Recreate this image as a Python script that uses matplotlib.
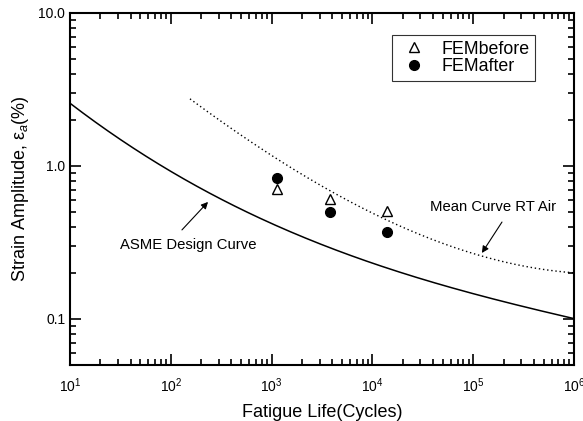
import numpy as np
import matplotlib
matplotlib.use('Agg')
import matplotlib.pyplot as plt
from matplotlib.ticker import FixedLocator, FixedFormatter, LogLocator, NullFormatter

plt.rcParams['font.family'] = ['Liberation Sans', 'DejaVu Sans']
plt.rcParams['mathtext.fontset'] = 'custom'
plt.rcParams['mathtext.rm'] = 'Liberation Sans'
plt.rcParams['mathtext.it'] = 'Liberation Sans:italic'

# ASME design curve
asme_cycles = [10, 36.7, 98, 245, 1210, 14000, 100000, 1000000]
asme_strain = [2.50, 1.48, 0.94, 0.627, 0.40, 0.215, 0.148, 0.10]

# mean curve RT air
mean_cycles = [155, 1210, 8070, 11900, 117000, 980000]
mean_strain = [2.74, 1.09, 0.531, 0.457, 0.262, 0.20]

# FEM points
fem_cycles = [1120, 3800, 14000]
fem_before = [0.71, 0.61, 0.51]
fem_after = [0.835, 0.50, 0.37]


def smooth(xs, ys, n=200):
    lx = np.log10(xs)
    ly = np.log10(ys)
    coef = np.polyfit(lx, ly, 3)
    gx = np.linspace(lx[0], lx[-1], n)
    return 10 ** gx, 10 ** np.polyval(coef, gx)


fig = plt.figure(figsize=(5.83, 4.21), dpi=100)
ax = fig.add_axes([70 / 583, 1 - 365 / 421, 504 / 583, 352 / 421])

sx, sy = smooth(asme_cycles, asme_strain)
ax.plot(sx, sy, color='black', lw=1.1)
mx, my = smooth(mean_cycles, mean_strain)
ax.plot(mx, my, color='black', lw=1.0, ls=(0, (1, 2)))

ax.plot(fem_cycles, fem_before, ls='none', marker='^', mfc='white', mec='black',
        ms=7, mew=1.0, label='FEMbefore')
ax.plot(fem_cycles, fem_after, ls='none', marker='o', mfc='black', mec='black',
        ms=7, label='FEMafter')

ax.set_xscale('log')
ax.set_yscale('log')
ax.set_xlim(10, 1e6)
ax.set_ylim(0.05, 10)

ax.yaxis.set_major_locator(FixedLocator([0.1, 1.0, 10.0]))
ax.yaxis.set_major_formatter(FixedFormatter(['0.1', '1.0', '10.0']))
ax.yaxis.set_minor_locator(LogLocator(base=10, subs=np.arange(2, 10)))
ax.yaxis.set_minor_formatter(NullFormatter())
ax.xaxis.set_minor_locator(LogLocator(base=10, subs=np.arange(2, 10)))
ax.xaxis.set_minor_formatter(NullFormatter())

ax.tick_params(which='both', direction='in', top=True, right=True, width=1.2, labelsize=10)
ax.tick_params(which='major', length=8)
ax.tick_params(which='minor', length=4)
ax.tick_params(axis='x', pad=8)
for s in ax.spines.values():
    s.set_linewidth(1.5)

ax.set_xlabel('Fatigue Life(Cycles)', fontsize=13, labelpad=7)
ax.set_ylabel('Strain Amplitude, ε$_a$(%)', fontsize=13, labelpad=5)

arrow = dict(arrowstyle='-|>', color='black', lw=0.8, mutation_scale=10,
             shrinkA=0, shrinkB=0)
ax.text(31, 0.305, 'ASME Design Curve', fontsize=10.7, ha='left', va='center')
ax.annotate('', xy=(234, 0.582), xytext=(129, 0.382), arrowprops=arrow)
ax.text(3.7e4, 0.54, 'Mean Curve RT Air', fontsize=10.7, ha='left', va='center')
ax.annotate('', xy=(1.22e5, 0.27), xytext=(1.93e5, 0.43), arrowprops=arrow)

leg = ax.legend(loc='upper right', bbox_to_anchor=(0.923, 0.937), fontsize=12.8,
                frameon=True, fancybox=False, edgecolor='black', handlelength=1.9,
                borderpad=0.3, labelspacing=0.05, handletextpad=0.6,
                borderaxespad=0)
leg.get_frame().set_linewidth(0.8)

fig.savefig('out.png', dpi=100)
